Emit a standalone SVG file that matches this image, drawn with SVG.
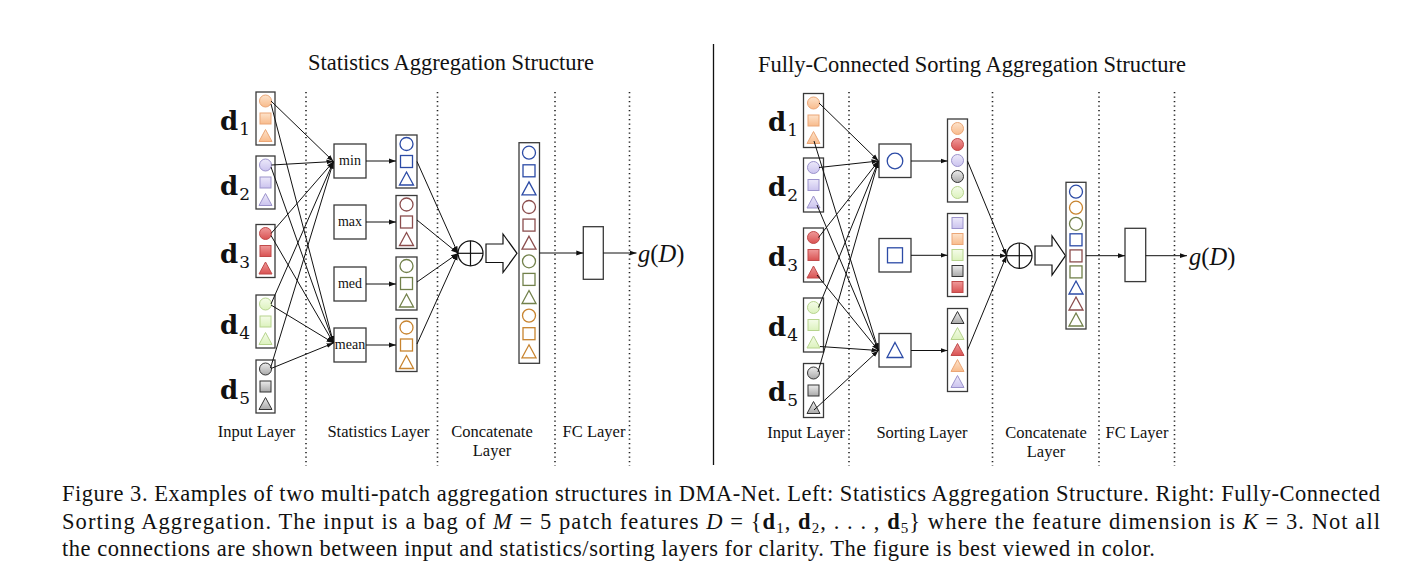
<svg xmlns="http://www.w3.org/2000/svg" width="1426" height="588" viewBox="0 0 1426 588">
<style>
.bg{fill:#fff}
.box{fill:#fff;stroke:#3a3a3a;stroke-width:1.3}
.dot{stroke:#222;stroke-width:1.6;stroke-dasharray:1.2 3.3;fill:none}
.ln{stroke:#111;stroke-width:1;fill:none}
.arr{marker-end:url(#ah)}
.lbl{font-family:"Liberation Serif",serif;font-size:16.5px;text-anchor:middle;fill:#111}
.ttl{font-family:"Liberation Serif",serif;font-size:22.5px;text-anchor:middle;fill:#111}
.cap{font-family:"Liberation Serif",serif;font-size:22.5px;fill:#111}
.op{font-family:"Liberation Serif",serif;font-size:14px;text-anchor:middle;fill:#111}
.dl{font-family:"DejaVu Serif",serif;font-weight:bold;font-size:26px;fill:#111}
.sub{font-family:"DejaVu Serif",serif;font-weight:normal;font-size:17px}
.gd{font-family:"Liberation Serif",serif;font-size:24.5px;fill:#111}
.or{fill:url(#gOr);stroke:#eba676;stroke-width:1}
.lv{fill:url(#gLv);stroke:#9c93cc;stroke-width:1}
.rd{fill:url(#gRd);stroke:#c14b4b;stroke-width:1}
.gr{fill:url(#gGr);stroke:#b7d48e;stroke-width:1}
.gy{fill:url(#gGy);stroke:#333;stroke-width:1}
.bl{fill:none;stroke:#2c4ba6;stroke-width:1.3}
.mr{fill:none;stroke:#8b4d4d;stroke-width:1.3}
.ol{fill:none;stroke:#72814b;stroke-width:1.3}
.br{fill:none;stroke:#c8842f;stroke-width:1.3}
</style>
<defs>
<linearGradient id="gOr" x1="0" y1="0" x2="0" y2="1"><stop offset="0" stop-color="#fde3cb"/><stop offset="1" stop-color="#f8bb8c"/></linearGradient>
<linearGradient id="gLv" x1="0" y1="0" x2="0" y2="1"><stop offset="0" stop-color="#ece9fa"/><stop offset="1" stop-color="#cbc3ee"/></linearGradient>
<linearGradient id="gRd" x1="0" y1="0" x2="0" y2="1"><stop offset="0" stop-color="#ef9a9a"/><stop offset="1" stop-color="#d95252"/></linearGradient>
<linearGradient id="gGr" x1="0" y1="0" x2="0" y2="1"><stop offset="0" stop-color="#f5fce9"/><stop offset="1" stop-color="#dcf2bd"/></linearGradient>
<linearGradient id="gGy" x1="0" y1="0" x2="0" y2="1"><stop offset="0" stop-color="#ececec"/><stop offset="1" stop-color="#a9a9a9"/></linearGradient>
<circle id="c" r="6"/>
<rect id="s" x="-5.5" y="-5.5" width="11" height="11"/>
<path id="t" d="M0,-6.5 L6.5,5.5 L-6.5,5.5Z"/>
<circle id="C" r="6.5"/>
<rect id="S" x="-6" y="-6" width="12" height="12"/>
<path id="T" d="M0,-7 L7,6 L-7,6Z"/>
<marker id="ah" markerWidth="8" markerHeight="6" refX="7" refY="3" orient="auto" markerUnits="userSpaceOnUse"><path d="M0,0.6 L7,3 L0,5.4Z" fill="#111"/></marker>
</defs>
<rect class="bg" x="0" y="0" width="1426" height="588"/>

<!-- titles and separators -->
<g id="titles">
<text class="ttl" x="451" y="70">Statistics Aggregation Structure</text>
<text class="ttl" x="972" y="72">Fully-Connected Sorting Aggregation Structure</text>
<line x1="713.5" y1="44" x2="713.5" y2="465" stroke="#111" stroke-width="1.3"/>
</g>
<g id="dividers">
<line class="dot" x1="306" y1="92" x2="306" y2="466"/>
<line class="dot" x1="437.5" y1="92" x2="437.5" y2="466"/>
<line class="dot" x1="555" y1="92" x2="555" y2="466"/>
<line class="dot" x1="629.5" y1="92" x2="629.5" y2="466"/>
<line class="dot" x1="849" y1="92" x2="849" y2="466"/>
<line class="dot" x1="992.5" y1="92" x2="992.5" y2="466"/>
<line class="dot" x1="1099" y1="92" x2="1099" y2="466"/>
<line class="dot" x1="1174.5" y1="92" x2="1174.5" y2="466"/>
</g>

<!-- LEFT: input layer -->
<g id="L-d1">
<text class="dl" x="220" y="130">d<tspan class="sub" dx="1" dy="5">1</tspan></text>
<rect class="box" x="256" y="92" width="19" height="53"/>
<use href="#c" x="265.5" y="101" class="or"/><use href="#s" x="265.5" y="118.5" class="or"/><use href="#t" x="265.5" y="136" class="or"/>
</g>
<g id="L-d2">
<text class="dl" x="220" y="195">d<tspan class="sub" dx="1" dy="5">2</tspan></text>
<rect class="box" x="256" y="156" width="19" height="53"/>
<use href="#c" x="265.5" y="165" class="lv"/><use href="#s" x="265.5" y="182.5" class="lv"/><use href="#t" x="265.5" y="200" class="lv"/>
</g>
<g id="L-d3">
<text class="dl" x="220" y="263">d<tspan class="sub" dx="1" dy="5">3</tspan></text>
<rect class="box" x="256" y="224.5" width="19" height="53"/>
<use href="#c" x="265.5" y="233.5" class="rd"/><use href="#s" x="265.5" y="251" class="rd"/><use href="#t" x="265.5" y="268.5" class="rd"/>
</g>
<g id="L-d4">
<text class="dl" x="220" y="334">d<tspan class="sub" dx="1" dy="5">4</tspan></text>
<rect class="box" x="256" y="295" width="19" height="53"/>
<use href="#c" x="265.5" y="304" class="gr"/><use href="#s" x="265.5" y="321.5" class="gr"/><use href="#t" x="265.5" y="339" class="gr"/>
</g>
<g id="L-d5">
<text class="dl" x="220" y="399">d<tspan class="sub" dx="1" dy="5">5</tspan></text>
<rect class="box" x="256" y="360" width="19" height="53"/>
<use href="#c" x="265.5" y="369" class="gy"/><use href="#s" x="265.5" y="386.5" class="gy"/><use href="#t" x="265.5" y="404" class="gy"/>
</g>

<!-- LEFT: statistics layer -->
<g id="L-min"><rect class="box" x="334" y="144" width="32" height="34"/><text class="op" x="350" y="165">min</text></g>
<g id="L-max"><rect class="box" x="334" y="205" width="32" height="34"/><text class="op" x="350" y="226">max</text></g>
<g id="L-med"><rect class="box" x="334" y="267" width="32" height="34"/><text class="op" x="350" y="288">med</text></g>
<g id="L-mean"><rect class="box" x="334" y="328" width="32" height="34"/><text class="op" x="350" y="349">mean</text></g>

<g id="L-out-min"><rect class="box" x="396" y="135" width="21" height="53"/>
<use href="#C" x="406.5" y="144" class="bl"/><use href="#S" x="406.5" y="161.5" class="bl"/><use href="#T" x="406.5" y="179" class="bl"/></g>
<g id="L-out-max"><rect class="box" x="396" y="195.5" width="21" height="53"/>
<use href="#C" x="406.5" y="204.5" class="mr"/><use href="#S" x="406.5" y="222" class="mr"/><use href="#T" x="406.5" y="239.5" class="mr"/></g>
<g id="L-out-med"><rect class="box" x="396" y="257" width="21" height="53"/>
<use href="#C" x="406.5" y="266" class="ol"/><use href="#S" x="406.5" y="283.5" class="ol"/><use href="#T" x="406.5" y="301" class="ol"/></g>
<g id="L-out-mean"><rect class="box" x="396" y="318.5" width="21" height="53"/>
<use href="#C" x="406.5" y="327.5" class="br"/><use href="#S" x="406.5" y="345" class="br"/><use href="#T" x="406.5" y="362.5" class="br"/></g>

<!-- LEFT: concatenate -->
<g id="L-oplus"><circle cx="470.5" cy="253.3" r="12.5" fill="#fff" stroke="#111" stroke-width="1.2"/>
<line x1="458" y1="253.3" x2="483" y2="253.3" stroke="#111" stroke-width="1.2"/><line x1="470.5" y1="240.8" x2="470.5" y2="265.8" stroke="#111" stroke-width="1.2"/></g>
<g id="L-blockarrow"><path d="M486,244 L503,244 L503,234 L517,253.3 L503,272.5 L503,262.5 L486,262.5Z" fill="#fff" stroke="#111" stroke-width="1.2"/></g>
<g id="L-concat"><rect class="box" x="519" y="142.7" width="20.5" height="220.6"/>
<use href="#C" x="529" y="152.7" class="bl"/><use href="#S" x="529" y="170.8" class="bl"/><use href="#T" x="529" y="188.9" class="bl"/>
<use href="#C" x="529" y="207" class="mr"/><use href="#S" x="529" y="225.1" class="mr"/><use href="#T" x="529" y="243.2" class="mr"/>
<use href="#C" x="529" y="261.3" class="ol"/><use href="#S" x="529" y="279.4" class="ol"/><use href="#T" x="529" y="297.5" class="ol"/>
<use href="#C" x="529" y="315.6" class="br"/><use href="#S" x="529" y="333.7" class="br"/><use href="#T" x="529" y="351.8" class="br"/></g>
<g id="L-fc"><rect class="box" x="583.3" y="226.7" width="20" height="52.6"/></g>
<g id="L-out"><text class="gd" x="638" y="262"><tspan font-style="italic">g</tspan>(<tspan font-style="italic">D</tspan>)</text></g>

<!-- LEFT labels -->
<g id="L-labels">
<text class="lbl" x="256.5" y="437">Input Layer</text>
<text class="lbl" x="378.5" y="437">Statistics Layer</text>
<text class="lbl" x="492" y="437">Concatenate</text>
<text class="lbl" x="492" y="456">Layer</text>
<text class="lbl" x="594" y="437">FC Layer</text>
</g>

<!-- RIGHT: input layer -->
<g id="R-d1">
<text class="dl" x="768" y="131">d<tspan class="sub" dx="1" dy="5">1</tspan></text>
<rect class="box" x="803.5" y="93.5" width="20" height="54"/>
<use href="#c" x="813.5" y="103" class="or"/><use href="#s" x="813.5" y="120.5" class="or"/><use href="#t" x="813.5" y="138" class="or"/>
</g>
<g id="R-d2">
<text class="dl" x="768" y="196">d<tspan class="sub" dx="1" dy="5">2</tspan></text>
<rect class="box" x="803.5" y="158" width="20" height="54"/>
<use href="#c" x="813.5" y="167.5" class="lv"/><use href="#s" x="813.5" y="185" class="lv"/><use href="#t" x="813.5" y="202.5" class="lv"/>
</g>
<g id="R-d3">
<text class="dl" x="768" y="266">d<tspan class="sub" dx="1" dy="5">3</tspan></text>
<rect class="box" x="803.5" y="228" width="20" height="54"/>
<use href="#c" x="813.5" y="237.5" class="rd"/><use href="#s" x="813.5" y="255" class="rd"/><use href="#t" x="813.5" y="272.5" class="rd"/>
</g>
<g id="R-d4">
<text class="dl" x="768" y="336">d<tspan class="sub" dx="1" dy="5">4</tspan></text>
<rect class="box" x="803.5" y="298" width="20" height="54"/>
<use href="#c" x="813.5" y="307.5" class="gr"/><use href="#s" x="813.5" y="325" class="gr"/><use href="#t" x="813.5" y="342.5" class="gr"/>
</g>
<g id="R-d5">
<text class="dl" x="768" y="401">d<tspan class="sub" dx="1" dy="5">5</tspan></text>
<rect class="box" x="803.5" y="363.5" width="20" height="54"/>
<use href="#c" x="813.5" y="373" class="gy"/><use href="#s" x="813.5" y="390.5" class="gy"/><use href="#t" x="813.5" y="408" class="gy"/>
</g>

<!-- RIGHT: sorting layer -->
<g id="R-sort-c"><rect class="box" x="879" y="144" width="32" height="33.5"/><circle cx="895" cy="161" r="7.8" class="bl"/></g>
<g id="R-sort-s"><rect class="box" x="879" y="238.5" width="32" height="33.5"/><rect x="887.5" y="247.8" width="15" height="15" class="bl"/></g>
<g id="R-sort-t"><rect class="box" x="879" y="333.5" width="32" height="33.5"/><path d="M895,342.5 L903,357.5 L887,357.5Z" class="bl"/></g>

<g id="R-out-c"><rect class="box" x="947.5" y="119" width="20" height="83"/>
<use href="#c" x="957.5" y="128.5" class="or"/><use href="#c" x="957.5" y="144.5" class="rd"/><use href="#c" x="957.5" y="160.5" class="lv"/><use href="#c" x="957.5" y="176.5" class="gy"/><use href="#c" x="957.5" y="192.5" class="gr"/></g>
<g id="R-out-s"><rect class="box" x="947.5" y="213.5" width="20" height="83"/>
<use href="#s" x="957.5" y="223" class="lv"/><use href="#s" x="957.5" y="239" class="or"/><use href="#s" x="957.5" y="255" class="gr"/><use href="#s" x="957.5" y="271" class="gy"/><use href="#s" x="957.5" y="287" class="rd"/></g>
<g id="R-out-t"><rect class="box" x="947.5" y="308.5" width="20" height="83"/>
<use href="#t" x="957.5" y="318" class="gy"/><use href="#t" x="957.5" y="334" class="gr"/><use href="#t" x="957.5" y="350" class="rd"/><use href="#t" x="957.5" y="366" class="or"/><use href="#t" x="957.5" y="382" class="lv"/></g>

<!-- RIGHT: concatenate -->
<g id="R-oplus"><circle cx="1019.3" cy="255.7" r="12.7" fill="#fff" stroke="#111" stroke-width="1.2"/>
<line x1="1006.6" y1="255.7" x2="1032" y2="255.7" stroke="#111" stroke-width="1.2"/><line x1="1019.3" y1="243" x2="1019.3" y2="268.4" stroke="#111" stroke-width="1.2"/></g>
<g id="R-blockarrow"><path d="M1035,246 L1052,246 L1052,236 L1065.5,255.7 L1052,275 L1052,265 L1035,265Z" fill="#fff" stroke="#111" stroke-width="1.2"/></g>
<g id="R-concat"><rect class="box" x="1066" y="182.3" width="20" height="146.7"/>
<use href="#C" x="1076" y="191.7" class="bl"/><use href="#C" x="1076" y="207.7" class="br"/><use href="#C" x="1076" y="223.8" class="ol"/>
<use href="#S" x="1076" y="239.8" class="bl"/><use href="#S" x="1076" y="255.9" class="mr"/><use href="#S" x="1076" y="271.9" class="ol"/>
<use href="#T" x="1076" y="288" class="bl"/><use href="#T" x="1076" y="304" class="mr"/><use href="#T" x="1076" y="320" class="ol"/></g>
<g id="R-fc"><rect class="box" x="1125" y="228.3" width="20.7" height="53.3"/></g>
<g id="R-out"><text class="gd" x="1189" y="264.5"><tspan font-style="italic">g</tspan>(<tspan font-style="italic">D</tspan>)</text></g>

<g id="R-labels">
<text class="lbl" x="806" y="438">Input Layer</text>
<text class="lbl" x="922" y="438">Sorting Layer</text>
<text class="lbl" x="1046" y="438">Concatenate</text>
<text class="lbl" x="1046" y="457">Layer</text>
<text class="lbl" x="1137" y="438">FC Layer</text>
</g>

<!-- connectors -->
<g id="connectors">
<line class="ln arr" x1="271" y1="101" x2="333.5" y2="161.5"/>
<line class="ln arr" x1="271" y1="104" x2="333.5" y2="343"/>
<line class="ln arr" x1="271.5" y1="165" x2="333.5" y2="161.5"/>
<line class="ln arr" x1="271" y1="167" x2="333.5" y2="343"/>
<line class="ln arr" x1="271" y1="233.5" x2="333.5" y2="161.5"/>
<line class="ln arr" x1="271" y1="235.5" x2="333.5" y2="343"/>
<line class="ln arr" x1="271" y1="304" x2="333.5" y2="161.5"/>
<line class="ln arr" x1="271" y1="305" x2="333.5" y2="343"/>
<line class="ln arr" x1="270.5" y1="368" x2="333.5" y2="161.5"/>
<line class="ln arr" x1="271" y1="368.5" x2="333.5" y2="343"/>
<line class="ln arr" x1="366" y1="161" x2="396" y2="161"/>
<line class="ln arr" x1="366" y1="222" x2="396" y2="222"/>
<line class="ln arr" x1="366" y1="284" x2="396" y2="284"/>
<line class="ln arr" x1="366" y1="345" x2="396" y2="345"/>
<line class="ln arr" x1="417" y1="161.5" x2="458" y2="253.3"/>
<line class="ln arr" x1="417" y1="220" x2="458" y2="253.3"/>
<line class="ln arr" x1="417" y1="282" x2="458" y2="253.3"/>
<line class="ln arr" x1="417" y1="344" x2="458" y2="253.3"/>
<line class="ln arr" x1="539.5" y1="253" x2="583.3" y2="253"/>
<line class="ln arr" x1="603.3" y1="253" x2="636.5" y2="253"/>

<line class="ln arr" x1="819" y1="103" x2="878.5" y2="161"/>
<line class="ln arr" x1="819" y1="167.5" x2="878.5" y2="161"/>
<line class="ln arr" x1="818.5" y1="237.5" x2="878.5" y2="161"/>
<line class="ln arr" x1="818.5" y1="307.5" x2="878.5" y2="161"/>
<line class="ln arr" x1="818" y1="372" x2="878.5" y2="161"/>
<line class="ln arr" x1="814" y1="141" x2="878.5" y2="350.5"/>
<line class="ln arr" x1="817" y1="205" x2="878.5" y2="350.5"/>
<line class="ln arr" x1="817" y1="275" x2="878.5" y2="350.5"/>
<line class="ln arr" x1="820" y1="346.5" x2="878.5" y2="350.5"/>
<line class="ln arr" x1="814" y1="410" x2="878.5" y2="350.5"/>
<line class="ln arr" x1="911" y1="161" x2="947.5" y2="161"/>
<line class="ln arr" x1="911" y1="255.3" x2="947.5" y2="255.3"/>
<line class="ln arr" x1="911" y1="350.5" x2="947.5" y2="350.5"/>
<line class="ln arr" x1="967.5" y1="161" x2="1006.5" y2="255.7"/>
<line class="ln arr" x1="967.5" y1="255.7" x2="1006.5" y2="255.7"/>
<line class="ln arr" x1="967.5" y1="350" x2="1006.5" y2="255.7"/>
<line class="ln arr" x1="1086" y1="255.7" x2="1125" y2="255.7"/>
<line class="ln arr" x1="1145.7" y1="255.7" x2="1187" y2="255.7"/>
</g>

<!-- caption -->
<g id="caption">
<text class="cap" x="62" y="501" textLength="1318" lengthAdjust="spacing">Figure 3. Examples of two multi-patch aggregation structures in DMA-Net. Left: Statistics Aggregation Structure. Right: Fully-Connected</text>
<text class="cap" x="62" y="528.5" textLength="1318" lengthAdjust="spacing">Sorting Aggregation. The input is a bag of <tspan font-style="italic">M</tspan> = 5 patch features <tspan font-style="italic">D</tspan> = {<tspan font-weight="bold">d</tspan><tspan font-size="15" dy="4">1</tspan><tspan dy="-4">, </tspan><tspan font-weight="bold">d</tspan><tspan font-size="15" dy="4">2</tspan><tspan dy="-4">, . . . , </tspan><tspan font-weight="bold">d</tspan><tspan font-size="15" dy="4">5</tspan><tspan dy="-4">} where the feature dimension is </tspan><tspan font-style="italic">K</tspan> = 3. Not all</text>
<text class="cap" x="62" y="556" textLength="1093" lengthAdjust="spacing">the connections are shown between input and statistics/sorting layers for clarity. The figure is best viewed in color.</text>
</g>
</svg>
